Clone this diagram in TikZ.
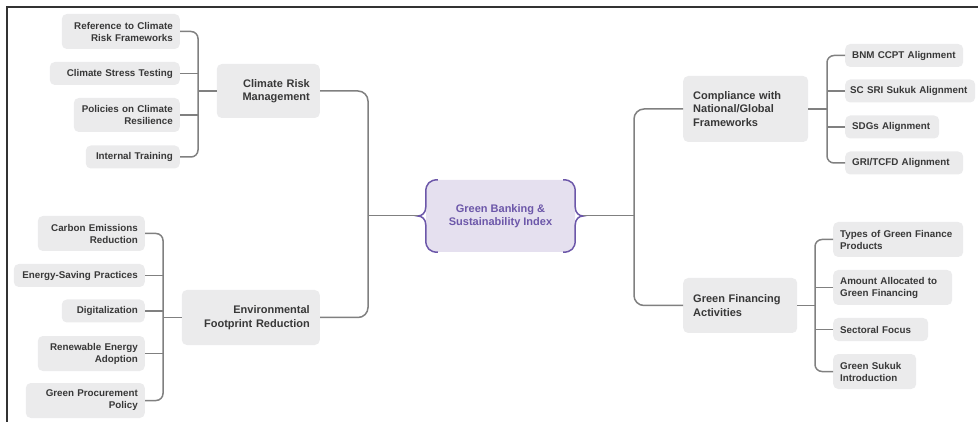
\documentclass[tikz,border=0pt]{standalone}
\usepackage{fontspec}
\setmainfont{Liberation Sans}
\usepackage{xcolor}

\definecolor{boxgray}{HTML}{EBEBEC}
\definecolor{txtgray}{HTML}{383838}
\definecolor{linegray}{HTML}{808080}
\definecolor{rootfill}{HTML}{E5E0EF}
\definecolor{rootline}{HTML}{6C57A9}

\tikzset{
  box/.style={fill=boxgray, rounded corners=5pt, text=txtgray,
    font=\bfseries\fontsize{9.8}{12}\selectfont,
    inner xsep=7pt, inner ysep=3pt, minimum height=23pt},
  leafL/.style={box, anchor=east, align=right},
  leafR/.style={box, anchor=west, align=left},
  topic/.style={box, font=\bfseries\fontsize{11}{13.5}\selectfont, inner xsep=10pt},
  root/.style={fill=rootfill, rounded corners=12pt, text=rootline,
    font=\bfseries\fontsize{11}{13.5}\selectfont,
    align=center, minimum width=149pt, minimum height=72pt, inner sep=0pt},
  rootbrace/.style={draw=rootline, line width=1.5pt},
  conn/.style={draw=linegray, line width=1.5pt, rounded corners=7pt},
}

\begin{document}
\begin{tikzpicture}[x=1pt, y=-1pt]
  \useasboundingbox (0,0) rectangle (978,422);
  \draw[line width=1.2pt, black!80] (7,422) -- (7,7) -- (978,7);

  % centre
  \node[root] (root) at (500.5,216) {Green Banking \&\\Sustainability Index};
  \draw[rootbrace] ([xshift=12pt]root.north west)
    .. controls ([xshift=4pt]root.north west) and ([yshift=-4pt]root.north west) .. ([yshift=-12pt]root.north west)
    -- ([yshift=9pt]root.west)
    .. controls ([yshift=3pt]root.west) and ([xshift=-4pt]root.west) .. ([xshift=-8pt]root.west)
    .. controls ([xshift=-4pt]root.west) and ([yshift=-3pt]root.west) .. ([yshift=-9pt]root.west)
    -- ([yshift=12pt]root.south west)
    .. controls ([yshift=4pt]root.south west) and ([xshift=4pt]root.south west) .. ([xshift=12pt]root.south west);
  \draw[rootbrace] ([xshift=-12pt]root.north east)
    .. controls ([xshift=-4pt]root.north east) and ([yshift=-4pt]root.north east) .. ([yshift=-12pt]root.north east)
    -- ([yshift=9pt]root.east)
    .. controls ([yshift=3pt]root.east) and ([xshift=4pt]root.east) .. ([xshift=8pt]root.east)
    .. controls ([xshift=4pt]root.east) and ([yshift=-3pt]root.east) .. ([yshift=-9pt]root.east)
    -- ([yshift=12pt]root.south east)
    .. controls ([yshift=4pt]root.south east) and ([xshift=-4pt]root.south east) .. ([xshift=-12pt]root.south east);
  \coordinate (lt) at ([xshift=-8pt]root.west);
  \coordinate (rt) at ([xshift=8pt]root.east);

  % topics
  \node[topic, anchor=east, align=right, text width=83pt, minimum height=54pt] (crm) at (320,91) {Climate Risk\\Management};
  \node[topic, anchor=east, align=right, text width=118pt, minimum height=55pt] (env) at (320,317.5) {Environmental\\Footprint Reduction};
  \node[topic, anchor=west, align=left, text width=105pt, minimum height=66pt] (comp) at (683,109) {Compliance with\\National/Global\\Frameworks};
  \node[topic, anchor=west, align=left, text width=94pt, minimum height=55pt] (gfa) at (683,305.5) {Green Financing\\Activities};

  % climate risk
  \node[leafL, text width=104pt, minimum height=35pt] (ref) at (180,31.5) {Reference to Climate\\Risk Frameworks};
  \node[leafL, text width=116pt] (stress) at (180,73.5) {Climate Stress Testing};
  \node[leafL, text width=92pt, minimum height=34pt] (policy) at (180,115) {Policies on Climate\\Resilience};
  \node[leafL, text width=80pt] (training) at (180,157) {Internal Training};

  % environmental footprint
  \node[leafL, text width=93pt, minimum height=35pt] (carbon) at (145,233.5) {Carbon Emissions\\Reduction};
  \node[leafL, text width=117pt] (energy) at (145,275.5) {Energy-Saving Practices};
  \node[leafL, text width=69pt] (digital) at (145,311) {Digitalization};
  \node[leafL, text width=93pt, minimum height=35pt] (renew) at (145,353.5) {Renewable Energy\\Adoption};
  \node[leafL, text width=105pt, minimum height=35pt] (procure) at (145,400.5) {Green Procurement\\Policy};

  % compliance
  \node[leafR, text width=104pt] (bnm) at (845,55.5) {BNM CCPT Alignment};
  \node[leafR, text width=120pt, inner xsep=5pt] (sc) at (845,91) {\mbox{SC SRI Sukuk Alignment}};
  \node[leafR, text width=80pt] (sdg) at (845,127) {SDGs Alignment};
  \node[leafR, text width=104pt] (gri) at (845,163) {GRI/TCFD Alignment};

  % green financing
  \node[leafR, text width=116pt, minimum height=35pt] (types) at (833,239.5) {Types of Green Finance\\Products};
  \node[leafR, text width=105pt, minimum height=35pt] (amount) at (833,287.5) {Amount Allocated to\\Green Financing};
  \node[leafR, text width=81pt] (sector) at (833,329.5) {Sectoral Focus};
  \node[leafR, text width=69pt, minimum height=35pt] (sukuk) at (833,371.5) {Green Sukuk\\Introduction};

  % connectors
  \coordinate (b1) at (368,216);
  \coordinate (b2) at (634,216);
  \coordinate (s1) at (198,91);
  \coordinate (s2) at (163,317.5);
  \coordinate (s3) at (827,109);
  \coordinate (s4) at (815,305.5);

  \draw[conn, line width=1pt] (lt) -- (b1);
  \draw[conn, line width=1pt] (rt) -- (b2);
  \draw[conn, rounded corners=10pt] (crm.east) -| (b1) |- (env.east);
  \draw[conn, rounded corners=10pt] (comp.west) -| (b2) |- (gfa.west);

  \draw[conn] (ref.east) -| (s1) |- (training.east);
  \draw[conn] (stress.east) -- (stress.east -| s1);
  \draw[conn] (policy.east) -- (policy.east -| s1);
  \draw[conn] (crm.west) -- (s1);

  \draw[conn] (carbon.east) -| (s2) |- (procure.east);
  \draw[conn] (energy.east) -- (energy.east -| s2);
  \draw[conn] (digital.east) -- (digital.east -| s2);
  \draw[conn] (renew.east) -- (renew.east -| s2);
  \draw[conn] (env.west) -- (s2);

  \draw[conn] (bnm.west) -| (s3) |- (gri.west);
  \draw[conn] (sc.west) -- (sc.west -| s3);
  \draw[conn] (sdg.west) -- (sdg.west -| s3);
  \draw[conn] (comp.east) -- (s3);

  \draw[conn] (types.west) -| (s4) |- (sukuk.west);
  \draw[conn] (amount.west) -- (amount.west -| s4);
  \draw[conn] (sector.west) -- (sector.west -| s4);
  \draw[conn] (gfa.east) -- (s4);
\end{tikzpicture}
\end{document}
